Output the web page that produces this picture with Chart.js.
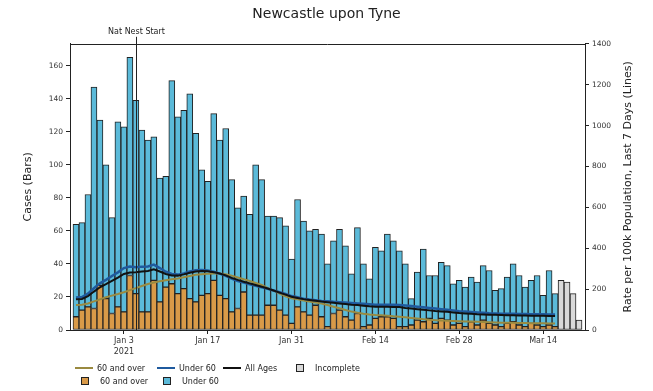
<!DOCTYPE html>
<html>
<head>
<meta charset="utf-8">
<script src="https://cdn.jsdelivr.net/npm/chart.js@4.4.1/dist/chart.umd.min.js"></script>
<style>
    html, body { margin: 0; padding: 0; background: #fff; }
    #wrap { position: relative; width: 653px; height: 391px; }
    #legend { position: absolute; left: 0; top: 0; width: 653px; height: 391px; pointer-events: none;
              font: 8px 'DejaVu Sans', sans-serif; color: #222; }
    .item { position: absolute; display: flex; align-items: center; white-space: nowrap; height: 10px; }
    .line { display: inline-block; width: 18px; height: 2px; margin-right: 4px; }
    .box { display: inline-block; width: 6px; height: 6px; border: 1px solid #222; margin: 0 11px 0 6px; }
</style>
</head>
<body>
<div id="wrap">
    <canvas id="chart" width="653" height="391"></canvas>
    <div id="legend"></div>
</div>
<script>
// Axis days (one category per day, Dec 25 2020 - Mar 21 2021)
const days = [
    'Dec 25','Dec 26','Dec 27','Dec 28','Dec 29','Dec 30','Dec 31',
    'Jan 1','Jan 2','Jan 3','Jan 4','Jan 5','Jan 6','Jan 7','Jan 8','Jan 9','Jan 10',
    'Jan 11','Jan 12','Jan 13','Jan 14','Jan 15','Jan 16','Jan 17','Jan 18','Jan 19','Jan 20',
    'Jan 21','Jan 22','Jan 23','Jan 24','Jan 25','Jan 26','Jan 27','Jan 28','Jan 29','Jan 30','Jan 31',
    'Feb 1','Feb 2','Feb 3','Feb 4','Feb 5','Feb 6','Feb 7','Feb 8','Feb 9','Feb 10',
    'Feb 11','Feb 12','Feb 13','Feb 14','Feb 15','Feb 16','Feb 17','Feb 18','Feb 19','Feb 20',
    'Feb 21','Feb 22','Feb 23','Feb 24','Feb 25','Feb 26','Feb 27','Feb 28',
    'Mar 1','Mar 2','Mar 3','Mar 4','Mar 5','Mar 6','Mar 7','Mar 8','Mar 9','Mar 10',
    'Mar 11','Mar 12','Mar 13','Mar 14','Mar 15','Mar 16','Mar 17','Mar 18','Mar 19','Mar 20','Mar 21'
];
const tickDays = ['Jan 3', 'Jan 17', 'Jan 31', 'Feb 14', 'Feb 28', 'Mar 14'];
const yearLabel = '2021';

// Complete days start Dec 26, incomplete days start Mar 17
const firstDay = 'Dec 26';
const firstIncompleteDay = 'Mar 17';
const natNestDay = 'Jan 5';
const natNestLabel = 'Nat Nest Start';

// Daily cases (bars)
const cases60Plus = [
    8, 12, 14, 13, 27, 19, 10, 14, 11, 33,
    22, 11, 11, 30, 17, 26, 28, 22, 25, 19,
    17, 21, 22, 30, 21, 19, 11, 13, 23, 9,
    9, 9, 15, 15, 12, 9, 4, 14, 11, 9,
    15, 8, 2, 10, 12, 8, 6, 10, 2, 3,
    7, 8, 8, 7, 2, 2, 3, 6, 5, 7,
    4, 7, 6, 3, 4, 2, 5, 3, 6, 4,
    3, 2, 4, 5, 3, 2, 4, 3, 2, 3,
    2
];
const casesUnder60 = [
    56, 53, 68, 134, 100, 81, 58, 112, 112, 132,
    117, 110, 104, 87, 75, 67, 123, 107, 108, 124,
    102, 76, 68, 101, 94, 103, 80, 61, 58, 61,
    91, 82, 54, 54, 56, 54, 39, 65, 55, 51,
    46, 50, 38, 44, 49, 43, 28, 52, 38, 28,
    43, 40, 50, 47, 46, 38, 16, 29, 44, 26,
    29, 34, 33, 25, 26, 24, 27, 26, 33, 32,
    21, 23, 28, 35, 30, 24, 26, 30, 19, 33,
    20
];
const casesIncomplete = [30, 29, 22, 6];

// 7 day rate per 100k (lines)
const rate60Plus = [
    122, 124, 130, 140, 150, 160, 168, 176, 185, 195,
    205, 215, 225, 232, 238, 243, 248, 252, 258, 264,
    270, 273, 275, 276, 276, 273, 266, 257, 248, 240,
    230, 220, 206, 193, 178, 165, 155, 150, 144, 139,
    134, 129, 122, 114, 106, 98, 90, 85, 80, 76,
    73, 72, 70, 67, 65, 62, 59, 56, 53, 50,
    48, 46, 45, 44, 43, 42, 41, 40, 39, 38,
    37, 36, 35, 35, 34, 34, 33, 33, 33, 32,
    32
];
const rateUnder60 = [
    159, 161, 178, 204, 228, 245, 264, 282, 303, 310,
    307, 310, 311, 320, 303, 285, 274, 271, 277, 286,
    292, 293, 291, 285, 276, 265, 251, 240, 232, 224,
    216, 209, 202, 193, 185, 176, 166, 160, 153, 149,
    146, 142, 141, 138, 136, 134, 132, 130, 128, 126,
    124, 124, 124, 123, 122, 120, 117, 114, 111, 108,
    105, 102, 99, 96, 92, 90, 88, 86, 84, 82,
    81, 80, 79, 79, 78, 78, 77, 77, 77, 76,
    76
];
const rateAllAges = [
    150, 152, 166, 188, 209, 224, 240, 256, 274, 281,
    282, 286, 289, 297, 286, 274, 267, 266, 272, 280,
    286, 288, 287, 283, 276, 267, 255, 245, 236, 228,
    220, 212, 203, 193, 183, 173, 163, 157, 151, 147,
    143, 139, 136, 133, 130, 127, 124, 122, 119, 116,
    114, 114, 114, 113, 112, 108, 105, 102, 99, 96,
    93, 91, 89, 86, 83, 81, 79, 77, 76, 75,
    74, 73, 72, 72, 71, 71, 70, 70, 70, 69,
    69
];

const casesMax = 173.25;
const rateMax = 1400;

const colors = {
    bar60: '#d99a48',
    barUnder60: '#5bbad9',
    incomplete: '#d9d9d9',
    line60: '#9a8a40',
    lineUnder60: '#1f5a9e',
    lineAll: '#111111',
    edge: '#222222'
};
const font = "'DejaVu Sans', sans-serif";

// place a series on the day axis
function onDays(values, startDay) {
    const start = days.indexOf(startDay);
    return days.map((d, i) => (i >= start && i < start + values.length) ? values[i - start] : null);
}

const barStyle = { borderColor: colors.edge, borderWidth: 1, borderSkipped: false,
                   barPercentage: 1, categoryPercentage: 1, yAxisID: 'y', order: 3 };
const lineStyle = { type: 'line', pointRadius: 0, tension: 0, yAxisID: 'y2', fill: false };

// Anotações: moldura superior, linha "Nat Nest Start" e título do eixo direito
const extras = {
    id: 'extras',
    afterDatasetsDraw(chart) {
        const { ctx, chartArea: a, scales } = chart;
        const x = Math.round(scales.x.getPixelForValue(days.indexOf(natNestDay))) + 0.5;
        ctx.save();
        ctx.strokeStyle = colors.edge;
        ctx.lineWidth = 1;
        ctx.beginPath();
        ctx.moveTo(a.left, Math.round(a.top) + 0.5);
        ctx.lineTo(a.right, Math.round(a.top) + 0.5);
        ctx.moveTo(x, a.bottom);
        ctx.lineTo(x, a.top - 7);
        ctx.stroke();
        ctx.fillStyle = '#222';
        ctx.font = '8px ' + font;
        ctx.textAlign = 'center';
        ctx.textBaseline = 'bottom';
        ctx.fillText(natNestLabel, x, a.top - 8);
        ctx.translate(scales.y2.right - 25, (a.top + a.bottom) / 2);
        ctx.rotate(-Math.PI / 2);
        ctx.font = '11px ' + font;
        ctx.textBaseline = 'middle';
        ctx.fillText('Rate per 100k Population, Last 7 Days (Lines)', 0, 0);
        ctx.restore();
    }
};

const ctx = document.getElementById('chart').getContext('2d');
const chart = new Chart(ctx, {
    type: 'bar',
    data: {
        labels: days,
        datasets: [
            { ...lineStyle, label: 'All Ages', data: onDays(rateAllAges, firstDay),
              borderColor: colors.lineAll, borderWidth: 2, order: 0 },
            { ...lineStyle, label: 'Under 60', data: onDays(rateUnder60, firstDay),
              borderColor: colors.lineUnder60, borderWidth: 2.5, order: 1 },
            { ...lineStyle, label: '60 and over', data: onDays(rate60Plus, firstDay),
              borderColor: colors.line60, borderWidth: 2, order: 2 },
            { ...barStyle, label: '60 and over', data: onDays(cases60Plus, firstDay),
              backgroundColor: colors.bar60 },
            { ...barStyle, label: 'Under 60', data: onDays(casesUnder60, firstDay),
              backgroundColor: colors.barUnder60 },
            { ...barStyle, label: 'Incomplete', data: onDays(casesIncomplete, firstIncompleteDay),
              backgroundColor: colors.incomplete }
        ]
    },
    options: {
        responsive: false,
        devicePixelRatio: 1,
        animation: false,
        layout: { padding: 0 },
        plugins: {
            legend: { display: false },
            tooltip: { enabled: false },
            title: {
                display: true,
                text: 'Newcastle upon Tyne',
                color: '#222',
                font: { family: font, size: 14, weight: 'normal' },
                padding: { top: 6, bottom: 21 }
            }
        },
        scales: {
            x: {
                stacked: true,
                offset: false,
                grid: { offset: false, drawOnChartArea: false, tickLength: 4, tickColor: colors.edge },
                border: { color: colors.edge, width: 1 },
                afterBuildTicks: s => { s.ticks = s.ticks.filter(t => tickDays.includes(days[t.value])); },
                afterFit: s => { s.height = 61; },
                ticks: {
                    autoSkip: false, maxRotation: 0, padding: 2, color: '#333',
                    font: { family: font, size: 8, lineHeight: 1.35 },
                    callback: v => days[v] === tickDays[0] ? [days[v], yearLabel] : days[v]
                }
            },
            y: {
                position: 'left',
                stacked: true,
                min: 0,
                max: casesMax,
                grid: { drawOnChartArea: false, tickLength: 4, tickColor: colors.edge },
                border: { color: colors.edge, width: 1 },
                afterBuildTicks: s => { s.ticks = s.ticks.filter(t => t.value % 20 === 0); },
                afterFit: s => { s.width = 70; },
                ticks: { stepSize: 20, padding: 3, color: '#333', font: { family: font, size: 7.5 },
                         callback: v => String(v) },
                title: { display: true, text: 'Cases (Bars)', color: '#222',
                         font: { family: font, size: 11 }, padding: { top: 22, bottom: 0 } }
            },
            y2: {
                position: 'right',
                min: 0,
                max: rateMax,
                grid: { drawOnChartArea: false, tickLength: 4, tickColor: colors.edge },
                border: { color: colors.edge, width: 1 },
                afterFit: s => { s.width = 68; },
                ticks: { stepSize: 200, padding: 3, color: '#333', font: { family: font, size: 7.5 },
                         callback: v => String(v) }
            }
        }
    },
    plugins: [extras]
});

// Legenda em HTML (duas linhas, como na figura original)
const legendItems = [
    { label: '60 and over', kind: 'line', color: colors.line60, left: 75, top: 363 },
    { label: 'Under 60', kind: 'line', color: colors.lineUnder60, left: 157, top: 363 },
    { label: 'All Ages', kind: 'line', color: colors.lineAll, left: 223, top: 363 },
    { label: 'Incomplete', kind: 'box', color: colors.incomplete, left: 290, top: 363 },
    { label: '60 and over', kind: 'box', color: colors.bar60, left: 75, top: 376 },
    { label: 'Under 60', kind: 'box', color: colors.barUnder60, left: 157, top: 376 }
];
const legendEl = document.getElementById('legend');
legendItems.forEach(item => {
    const div = document.createElement('div');
    div.className = 'item';
    div.style.left = item.left + 'px';
    div.style.top = item.top + 'px';
    const sw = document.createElement('span');
    sw.className = item.kind;
    sw.style.background = item.color;
    div.appendChild(sw);
    div.appendChild(document.createTextNode(item.label));
    legendEl.appendChild(div);
});
</script>
</body>
</html>
